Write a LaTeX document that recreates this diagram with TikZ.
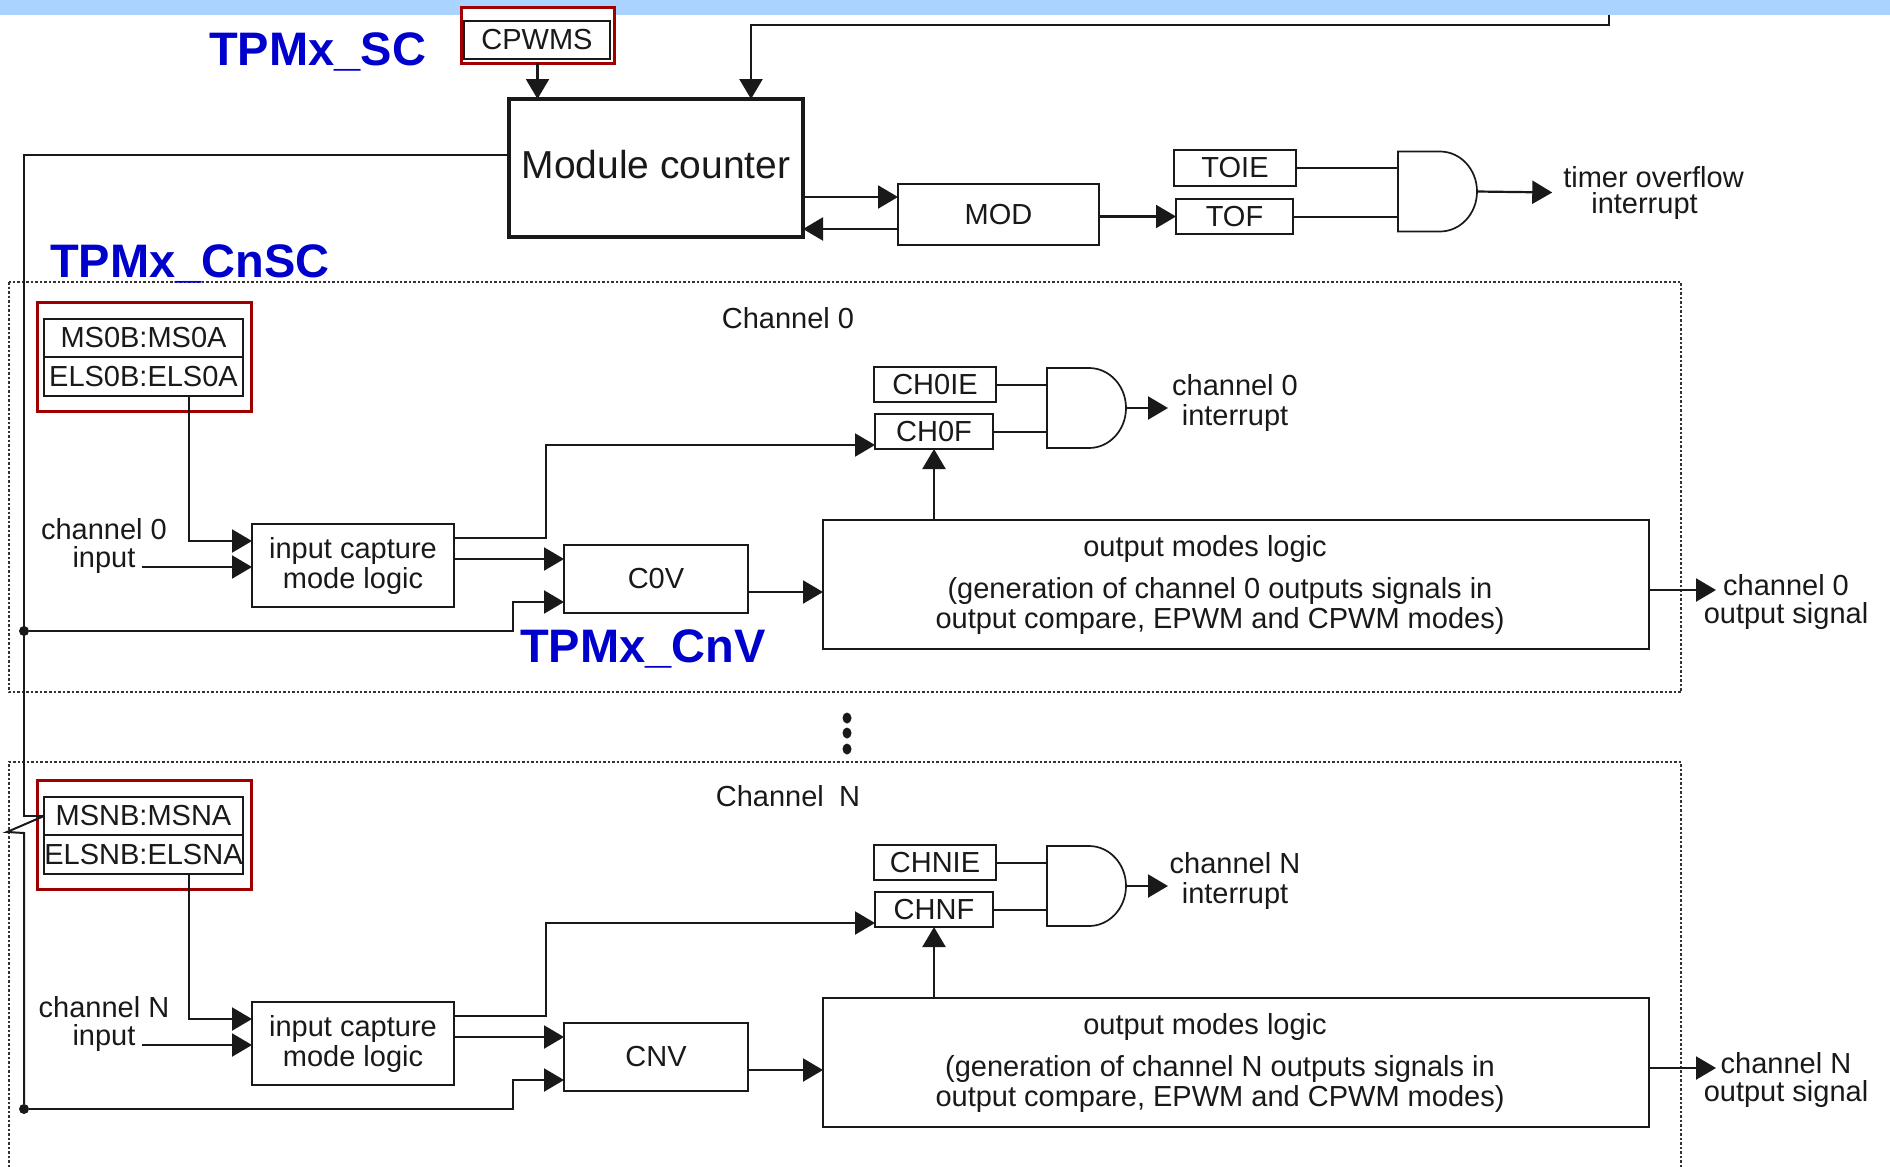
\documentclass[tikz,border=0pt]{standalone}
\usepackage{fontspec}
\setmainfont{Liberation Sans}
\usetikzlibrary{arrows.meta,shapes.geometric,calc}
\definecolor{barblue}{RGB}{170,212,255}
\definecolor{tpmred}{RGB}{160,0,0}
\definecolor{tpmblue}{RGB}{0,0,204}
\definecolor{ink}{RGB}{25,25,25}
\tikzset{
  txt/.style={inner sep=0pt, outer sep=0pt, align=center, text=ink, font=\fontsize{29}{30}\selectfont},
  box/.style={draw=ink, line width=2pt, inner sep=0pt, outer sep=0pt, align=center, text=ink, font=\fontsize{29}{30}\selectfont},
  regbox/.style={box, minimum width=199pt},
  redbox/.style={draw=tpmred, line width=3pt, fill=white, inner sep=0pt, outer sep=0pt},
  wire/.style={draw=ink, line width=2.2pt},
  thinwire/.style={draw=ink, line width=2pt},
  arr/.style={wire, -{Triangle[length=20pt,width=23pt]}},
  lbl/.style={inner sep=0pt, anchor=base west, text=tpmblue, font=\fontsize{47}{47}\selectfont\bfseries},
  chframe/.style={draw=black!80, line width=1.3pt, dash pattern=on 2.5pt off 2pt},
  andbody/.style={draw=none, inner sep=0pt, outer sep=0pt, minimum width=79pt, minimum height=80pt},
  gateline/.style={draw=ink, line width=1.7pt},
  busdot/.style={circle, fill=ink, inner sep=0pt, minimum size=10pt},
  vdot/.style={ellipse, fill=ink, inner sep=0pt, minimum width=9pt, minimum height=11pt},
}
% one channel block: #1 = vertical offset, #2 = channel index, #3 = title
\newcommand{\tpmchan}[3]{%
  \node[txt, anchor=base] (title#2) at (788,{328+#1}) {#3};
  \node[redbox, minimum width=214pt, minimum height=109pt] (msr#2) at (144,{356.5+#1}) {};
  \node[regbox, minimum height=38pt] (ms#2) at (143.5,{338+#1}) {MS#2B:MS#2A};
  \node[regbox, minimum height=39pt] (els#2) at (143.5,{376.5+#1}) {ELS#2B:ELS#2A};
  \node[txt] (in#2) at (104,{545.5+#1}) {channel #2\\[-2pt]input};
  \coordinate (ins#2) at (142,{567+#1});
  \node[box, minimum width=202pt, minimum height=83pt] (ic#2) at (353,{565.5+#1}) {input capture\\mode logic};
  \node[box, minimum width=184pt, minimum height=68pt] (cv#2) at (656,{579+#1}) {C#2V};
  \node[box, minimum width=826pt, minimum height=129pt] (om#2) at (1236,{584.5+#1}) {};
  \node[txt] (omt#2) at (1220,{584.5+#1}) {output modes logic\hspace*{30pt}\\[12pt](generation of channel #2 outputs signals in\\output compare, EPWM and CPWM modes)};
  \node[box, minimum width=122pt, minimum height=35pt] (ch#2ie) at (935,{384.5+#1}) {CH#2IE};
  \node[box, minimum width=118pt, minimum height=35pt] (ch#2f) at (934,{431.5+#1}) {CH#2F};
  \node[andbody] (g#2) at (1086.5,{408+#1}) {};
  \draw[gateline] (g#2.north west) -- ++(42,0) arc[start angle=90,end angle=-90,x radius=37pt,y radius=40pt] -- (g#2.south west) -- cycle;
  \node[txt] (ci#2) at (1235,{402.5+#1}) {channel #2\\interrupt};
  \coordinate (cit#2) at (1168,{408+#1});
  \node[txt] (os#2) at (1786,{601.5+#1}) {channel #2\\[-2pt]output signal};
  \coordinate (ost#2) at (1716,{590+#1});
  \node[busdot] (dot#2) at (24,{631+#1}) {};
  % connectors
  \draw[arr] ($(els#2.south)+(45.5,0)$) |- ($(ic#2.west)+(0,-24.5)$);
  \draw[arr] (ins#2) -- (ins#2 -| ic#2.west);
  \draw[arr] ($(ic#2.east)+(0,-27.5)$) -- (546,{538+#1}) -- (546,{445+#1}) -- ($(ch#2f.west)+(0,13.5)$);
  \draw[arr] ($(ic#2.east)+(0,-6.5)$) -- ($(ic#2.east -| cv#2.west)+(0,-6.5)$);
  \draw[arr] (dot#2) -| (513,{602+#1}) -- ($(cv#2.west)+(0,23)$);
  \draw[arr] ($(cv#2.east)+(0,13)$) -- ($(cv#2.east -| om#2.west)+(0,13)$);
  \draw[arr] (ch#2f.south |- om#2.north) -- (ch#2f.south);
  \draw[thinwire] (ch#2ie.east) -- (ch#2ie.east -| g#2.west);
  \draw[thinwire] (ch#2f.east) -- (ch#2f.east -| g#2.west);
  \draw[arr] (g#2.east) -- (cit#2);
  \draw[arr] ($(om#2.east)+(0,5.5)$) -- (ost#2);
}
\begin{document}
\begin{tikzpicture}[x=1pt,y=-1pt]
\useasboundingbox (0,0) rectangle (1890,1167);
\fill[barblue] (0,0) rectangle (1890,15);

% channel frames
\draw[chframe] (9,282) rectangle (1681,692);
\draw[chframe] (9,1167) -- (9,762) -- (1681,762) -- (1681,1167);

% top section
\node[redbox, minimum width=153pt, minimum height=56pt] (cpwmsr) at (537.5,35) {};
\node[box, minimum width=146pt, minimum height=38pt] (cpwms) at (537,40) {CPWMS};
\node[lbl] (lsc) at (209,65) {TPMx\_SC};
\node[box, line width=3.5pt, minimum width=294pt, minimum height=138pt, font=\fontsize{39}{40}\selectfont, text depth=8pt] (mc) at (656,168) {Module counter};
\node[box, minimum width=201pt, minimum height=61pt] (mod) at (998.5,214.5) {MOD};
\node[box, minimum width=122pt, minimum height=36pt] (toie) at (1235,168) {TOIE};
\node[box, minimum width=117pt, minimum height=35pt] (tof) at (1234.5,216.5) {TOF};
\node[andbody] (gt) at (1437.5,191.5) {};
\draw[gateline] (gt.north west) -- ++(42,0) arc[start angle=90,end angle=-90,x radius=37pt,y radius=40pt] -- (gt.south west) -- cycle;
\node[txt] (tov) at (1653.5,192.5) {timer overflow\\[-4pt]interrupt\hspace*{18pt}};
\node[lbl] (lcnsc) at (50,277) {TPMx\_CnSC};
\node[lbl] (lcnv) at (520,662) {TPMx\_CnV};

\coordinate (fbtop) at (1609,15);
\draw[arr] (cpwmsr.south) -- (cpwmsr.south |- mc.north);
\draw[arr, line width=2.5pt] (fbtop) -- (1609,25) -| ($(mc.north)+(95,0)$);
\draw[arr] ($(mc.east)+(0,29)$) -- ($(mc.east -| mod.west)+(0,29)$);
\draw[arr] ($(mod.west)+(0,14.5)$) -- ($(mod.west -| mc.east)+(0,14.5)$);
\draw[arr] (mod.east |- tof.west) -- (tof.west);
\draw[thinwire] (toie.east) -- (toie.east -| gt.west);
\draw[thinwire] (tof.east) -- (tof.east -| gt.west);
\draw[arr] (gt.east) -- ($(tov.west)+(-11,0)$);

% channels
\tpmchan{0}{0}{Channel 0}
\tpmchan{478}{N}{Channel\hspace{0.25em} N}

% vertical ellipsis
\node[vdot] (vd1) at (847,718) {};
\node[vdot] (vd2) at (847,733) {};
\node[vdot] (vd3) at (847,749) {};

% counter bus on the left
\draw[thinwire] ($(mc.west)+(0,-13)$) -- (24,155) |- (msN.west);
\draw[thinwire] (msN.west) -- (7,832) -- (24,833) -- (dotN);
\end{tikzpicture}
\end{document}
